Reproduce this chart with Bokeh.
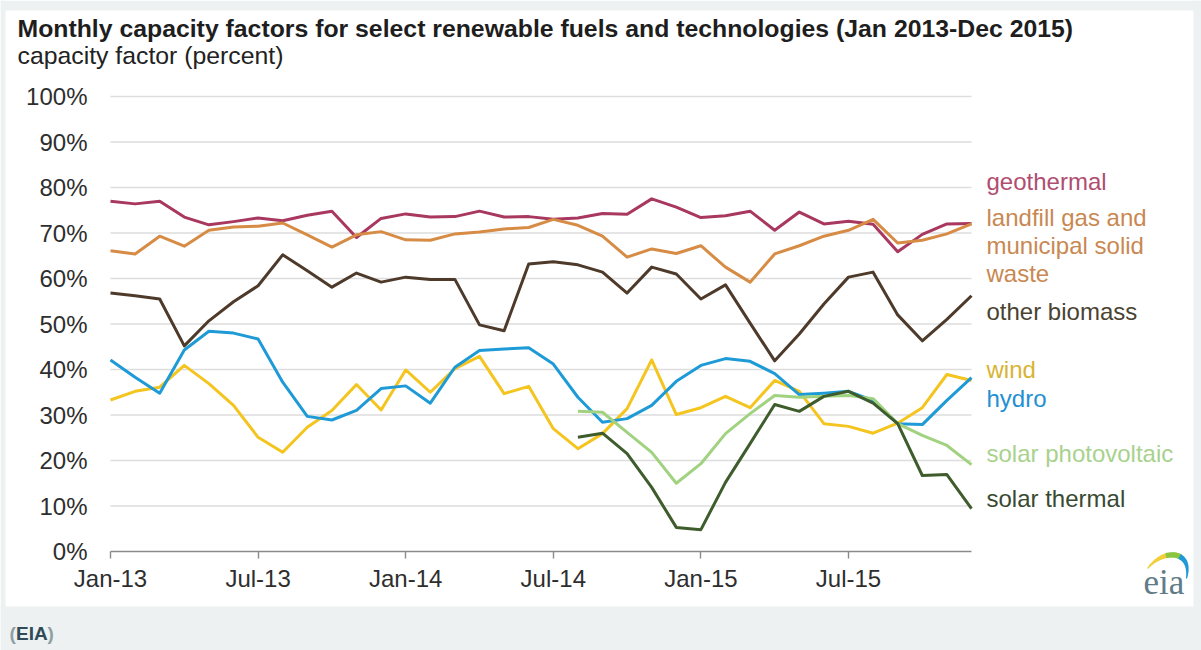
import numpy as np
from bokeh.plotting import figure
from bokeh.models import Range1d, FixedTicker, Label, BoxAnnotation, PolyAnnotation
from bokeh.embed import file_html
from bokeh.resources import INLINE

# ---------------- data ----------------
month_names = ["Jan", "Feb", "Mar", "Apr", "May", "Jun", "Jul", "Aug", "Sep", "Oct", "Nov", "Dec"]
years = ["13", "14", "15"]
months = [f"{m}-{y}" for y in years for m in month_names]
tick_labels = ["Jan-13", "Jul-13", "Jan-14", "Jul-14", "Jan-15", "Jul-15"]
y_ticks = [0, 10, 20, 30, 40, 50, 60, 70, 80, 90, 100]

NA = np.nan
geothermal = [77.0, 76.4, 77.0, 73.5, 71.8, 72.5, 73.3, 72.7, 73.9, 74.8, 69.0, 73.2,
              74.2, 73.5, 73.6, 74.8, 73.5, 73.6, 73.0, 73.3, 74.3, 74.1, 77.5, 75.7,
              73.4, 73.8, 74.8, 70.6, 74.6, 72.0, 72.6, 71.9, 65.9, 69.7, 72.0, 72.1]
landfill = [66.1, 65.4, 69.3, 67.1, 70.6, 71.3, 71.5, 72.2, 69.6, 66.9, 69.6, 70.3,
            68.5, 68.4, 69.8, 70.2, 70.9, 71.2, 73.0, 71.7, 69.3, 64.7, 66.5, 65.5,
            67.2, 62.5, 59.2, 65.4, 67.2, 69.3, 70.6, 73.0, 67.8, 68.4, 69.8, 72.0]
other_biomass = [56.8, 56.2, 55.5, 45.2, 50.7, 54.9, 58.4, 65.2, 61.7, 58.1, 61.2, 59.2,
                 60.3, 59.8, 59.8, 49.8, 48.5, 63.2, 63.7, 63.0, 61.4, 56.8, 62.5, 61.0,
                 55.5, 58.6, 50.2, 41.9, 47.8, 54.4, 60.3, 61.4, 52.0, 46.3, 51.0, 56.2]
wind = [33.3, 35.2, 36.1, 40.9, 36.9, 32.1, 25.1, 21.8, 27.3, 31.0, 36.7, 31.1,
        39.9, 35.0, 40.2, 42.9, 34.7, 36.3, 27.0, 22.6, 25.9, 31.4, 42.1, 30.1,
        31.6, 34.1, 31.6, 37.6, 35.2, 28.1, 27.5, 26.0, 28.2, 31.6, 38.9, 37.6]
hydro = [42.1, 38.3, 34.8, 44.3, 48.4, 48.0, 46.7, 37.2, 29.7, 28.9, 31.0, 35.8,
         36.4, 32.6, 40.5, 44.2, 44.5, 44.8, 41.2, 33.9, 28.4, 29.2, 32.1, 37.4,
         40.9, 42.4, 41.8, 39.1, 34.5, 34.8, 35.2, 33.2, 28.1, 27.9, 33.2, 38.2]
solar_pv = [NA] * 19 + [30.8, 30.6, 26.2, 21.8, 15.0,
                        19.3, 25.9, 30.3, 34.3, 33.9, 34.1, 34.3, 33.6, 28.1, 25.5, 23.3, 19.1]
solar_thermal = [NA] * 19 + [25.1, 26.0, 21.5, 14.1, 5.3,
                             4.8, 15.2, 23.7, 32.3, 30.8, 34.1, 35.2, 32.6, 28.1, 16.7, 16.9, 9.4]

series_names = ["geothermal", "landfill gas and\nmunicipal solid\nwaste", "other biomass",
                "wind", "hydro", "solar photovoltaic", "solar thermal"]
series_values = [geothermal, landfill, other_biomass, wind, hydro, solar_pv, solar_thermal]

# ---------------- styles ----------------
line_colors = ["#a8385f", "#d68c45", "#4e3a2a", "#f4c41f", "#1e9bd7", "#a0d280", "#3e5c2c"]
label_colors = ["#b04d70", "#c98852", "#4a4331", "#d7b433", "#2490d1", "#a8d28d", "#394a33"]
label_baselines_px = [181, 217, 311, 369, 398, 453, 498]  # first-line anchor, pixels from top
FONT = "Liberation Sans"
GRAY = "#eef1f1"

W, H = 1201, 650
FL, FR, FB = 110, 971, 551        # pixel positions of first month, last month, 0 %
XPP = (FR - FL) / (len(months) - 1)
YPP = 4.55                        # pixels per percentage point


def dx(px):
    return (px - FL) / XPP


def dy(py):
    return (FB - py) / YPP


x_idx = list(range(len(months)))
last = len(months) - 1

p = figure(width=W, height=H, output_backend="svg", toolbar_location=None,
           x_range=Range1d(dx(0), dx(W)), y_range=Range1d(dy(H), dy(0)),
           min_border_left=0, min_border_right=0, min_border_top=0, min_border_bottom=0)
p.outline_line_color = None
p.background_fill_color = "white"
p.border_fill_color = "white"
p.xgrid.visible = False
p.ygrid.visible = False

# horizontal gridlines (limited to the data span)
grid_y = [t for t in y_ticks if t > 0]
p.segment(x0=[0] * len(grid_y), x1=[last] * len(grid_y), y0=grid_y, y1=grid_y,
          line_color="#dddddd", line_width=1.6)

# axes drawn at fixed data locations
p.yaxis.fixed_location = 0
p.yaxis.bounds = (0, 100)
p.yaxis.ticker = FixedTicker(ticks=y_ticks)
p.yaxis.major_label_overrides = {t: f"{t}%" for t in y_ticks}
p.yaxis.axis_line_color = None
p.yaxis.major_tick_line_color = None
p.yaxis.minor_tick_line_color = None
p.yaxis.major_label_standoff = 17
p.yaxis.major_label_text_font = FONT
p.yaxis.major_label_text_font_size = "24px"
p.yaxis.major_label_text_color = "#2e2e2e"

tick_pos = [months.index(t) for t in tick_labels]
p.xaxis.fixed_location = 0
p.xaxis.bounds = (0, last)
p.xaxis.ticker = FixedTicker(ticks=tick_pos)
p.xaxis.major_label_overrides = {i: t for i, t in zip(tick_pos, tick_labels)}
p.xaxis.axis_line_color = "#8a8a8a"
p.xaxis.axis_line_width = 1.6
p.xaxis.major_tick_line_color = "#8a8a8a"
p.xaxis.major_tick_line_width = 1.4
p.xaxis.major_tick_out = 7
p.xaxis.major_tick_in = 0
p.xaxis.minor_tick_line_color = None
p.xaxis.major_label_standoff = 6
p.xaxis.major_label_text_font = FONT
p.xaxis.major_label_text_font_size = "24px"
p.xaxis.major_label_text_color = "#2e2e2e"

# lines
for vals, col in zip(series_values, line_colors):
    p.line(x_idx, vals, line_color=col, line_width=3, line_join="round")

# right-hand labels
for name, col, bpx in zip(series_names, label_colors, label_baselines_px):
    for k, part in enumerate(name.split("\n")):
        p.add_layout(Label(x=dx(986), y=dy(bpx + 28 * k), text=part, text_font=FONT,
                           text_font_size="24px", text_color=col, text_align="left",
                           text_baseline="alphabetic"))

# title & subtitle
p.add_layout(Label(x=dx(17), y=dy(28),
                   text="Monthly capacity factors for select renewable fuels and technologies (Jan 2013-Dec 2015)",
                   text_font=FONT, text_font_size="24.8px", text_font_style="bold", text_color="#1e1e1e",
                   text_align="left", text_baseline="alphabetic"))
p.add_layout(Label(x=dx(17), y=dy(55), text="capacity factor (percent)", text_font=FONT,
                   text_font_size="24.8px", text_color="#222222", text_align="left",
                   text_baseline="alphabetic"))

# gray frame bands
for l, r, t, b in [(0, W, 0, 10), (0, 5, 0, H), (1193, W, 0, H), (0, W, 606, H)]:
    p.add_layout(BoxAnnotation(left=dx(l), right=dx(r), top=dy(t), bottom=dy(b),
                               fill_color=GRAY, fill_alpha=1.0, line_color=None))

# footer "(EIA)"
for txt, xpx, col in [("(", 9, "#8f9ea5"), ("EIA", 15.5, "#2f4b58"), (")", 47, "#8f9ea5")]:
    p.add_layout(Label(x=dx(xpx), y=dy(633), text=txt, text_font=FONT, text_font_size="19px",
                       text_font_style="bold", text_color=col, text_align="left",
                       text_baseline="alphabetic"))

# eia logo
p.add_layout(Label(x=dx(1143), y=dy(582), text="eia", text_font="Liberation Serif",
                   text_font_size="35px", text_color="#607c88", text_align="left",
                   text_baseline="alphabetic"))
P0, P1, P2, P3 = np.array([1147, 568]), np.array([1163, 548]), np.array([1192, 549]), np.array([1186, 578])


def bez(t):
    t = t[:, None]
    return (1 - t) ** 3 * P0 + 3 * (1 - t) ** 2 * t * P1 + 3 * (1 - t) * t ** 2 * P2 + t ** 3 * P3


for (t0, t1), col in zip([(0.0, 0.36), (0.33, 0.62), (0.59, 1.0)], ["#f2cf3a", "#8cc63f", "#1f9ad6"]):
    t = np.linspace(t0, t1, 20)
    pts = bez(t)
    d = np.gradient(pts, axis=0)
    nrm = np.stack([d[:, 1], -d[:, 0]], axis=1)
    nrm /= np.linalg.norm(nrm, axis=1)[:, None]
    thick = 0.6 + 2.2 * np.sin(np.pi * t)
    outer = pts + nrm * thick[:, None]
    inner = pts - nrm * thick[:, None]
    poly = np.vstack([outer, inner[::-1]])
    p.add_layout(PolyAnnotation(xs=[dx(v) for v in poly[:, 0]], ys=[dy(v) for v in poly[:, 1]],
                                fill_color=col, fill_alpha=1.0, line_color=None))

open("out.html", "w").write(file_html(p, INLINE))
